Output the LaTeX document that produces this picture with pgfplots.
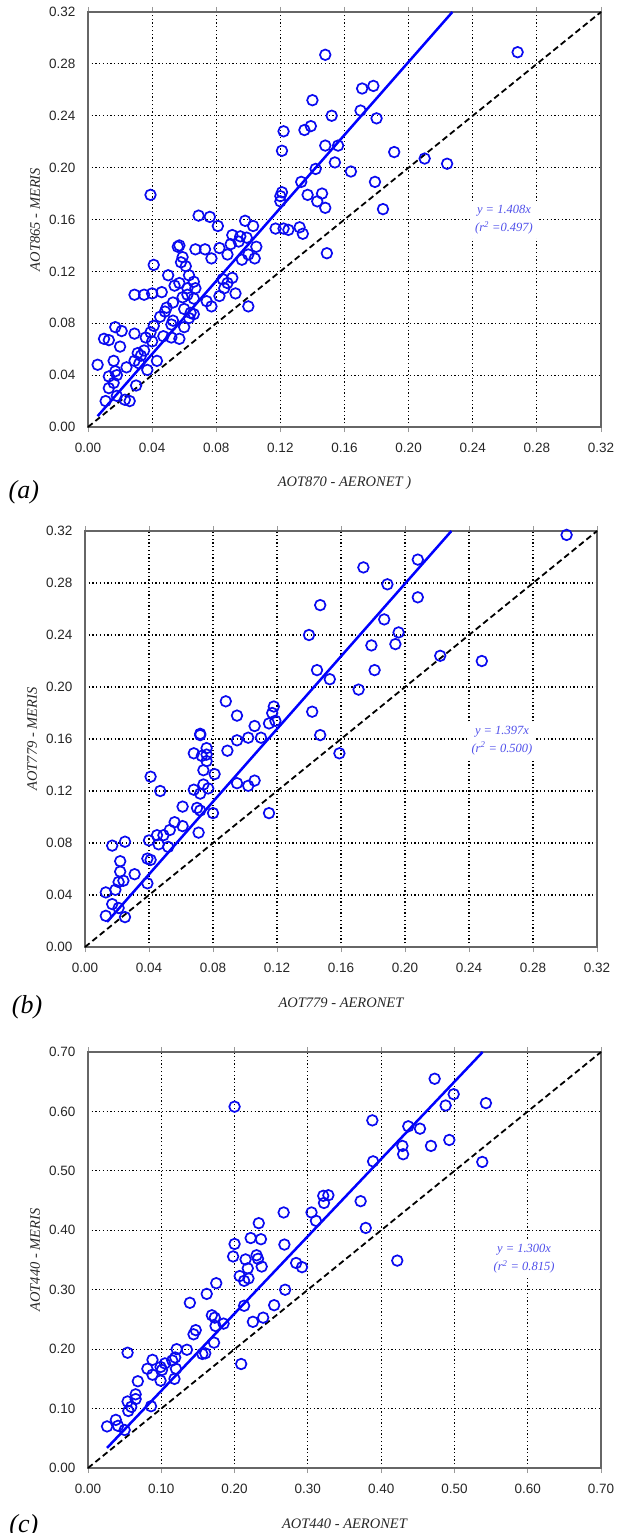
\documentclass[border=0pt]{standalone}
\usepackage{fontspec}
\setmainfont{Liberation Serif}
\newfontfamily\arial{Liberation Sans}
\usepackage{pgfplots}
\pgfplotsset{compat=1.18}
\definecolor{annot}{RGB}{80,80,235}
\definecolor{mk}{RGB}{10,10,240}

\pgfplotsset{
  panel/.style={
    scale only axis, anchor=south west, clip=false,
    xmin=0, ymin=0,
    grid=major,
    major grid style={black, line width=1.2pt, dash pattern=on 1.3pt off 2.4pt},
    axis line style={draw=black!60, line width=1.5pt},
    tick align=outside,
    xtick style={draw=black!40, line width=0.8pt},
    major tick length=5pt,
    ytick style={draw=none},
    ticklabel style={font=\arial\fontsize{13.5}{15}\selectfont, text=black!85},
    xticklabel style={yshift=-8pt},
    yticklabel style={xshift=-4pt},
    /pgf/number format/fixed,
    /pgf/number format/fixed zerofill,
    /pgf/number format/precision=2,
    /pgf/number format/assume math mode=true,
    xlabel style={at={(axis description cs:0.5,-0.135)}, anchor=center,
      font=\itshape\fontsize{14.5}{16}\selectfont, text=black!85},
    ylabel style={at={(axis description cs:-0.103,0.5)}, anchor=center,
      font=\itshape\fontsize{14.5}{16}\selectfont, text=black!85},
  },
  pts/.style={only marks, mark=o, mark size=5.3pt,
    mark options={draw=mk, line width=1.7pt}},
  fitline/.style={blue, line width=2.5pt, no marks},
  oneone/.style={black, line width=1.8pt, dash pattern=on 6pt off 3.5pt, no marks},
}
\tikzset{
  eqbox/.style={fill=white, inner sep=4pt, align=center, text=annot,
    font=\itshape\fontsize{12.5}{18}\selectfont},
  plabel/.style={font=\itshape\fontsize{26}{28}\selectfont, anchor=center},
}

\begin{document}
\begin{tikzpicture}
\path[use as bounding box] (0pt,0pt) rectangle (629pt,-1533pt);

% (a)
\begin{axis}[panel, at={(88pt,-427pt)}, width=513pt, height=415pt,
  xmax=0.32, ymax=0.32,
  xtick={0,0.04,0.08,0.12,0.16,0.20,0.24,0.28,0.32},
  ytick={0,0.04,0.08,0.12,0.16,0.20,0.24,0.28,0.32},
  xlabel={AOT870 - AERONET )}, ylabel={AOT865 - MERIS}]
\addplot[oneone] coordinates {(0,0) (0.32,0.32)};
\addplot[fitline] coordinates {(0.006,0.0084) (0.2273,0.32)};
\addplot[pts] table {
x y
0.148 0.287
0.268 0.289
0.171 0.261
0.178 0.263
0.140 0.252
0.170 0.244
0.152 0.240
0.180 0.238
0.122 0.228
0.139 0.232
0.135 0.229
0.121 0.213
0.148 0.217
0.156 0.217
0.191 0.212
0.210 0.207
0.224 0.203
0.154 0.204
0.142 0.199
0.164 0.197
0.133 0.189
0.179 0.189
0.039 0.179
0.120 0.178
0.121 0.181
0.120 0.174
0.137 0.179
0.146 0.180
0.143 0.174
0.148 0.169
0.184 0.168
0.069 0.163
0.076 0.162
0.081 0.155
0.098 0.159
0.103 0.155
0.117 0.153
0.122 0.153
0.125 0.152
0.132 0.154
0.134 0.149
0.090 0.148
0.095 0.147
0.099 0.146
0.094 0.143
0.089 0.141
0.057 0.140
0.056 0.139
0.067 0.137
0.073 0.137
0.082 0.138
0.105 0.139
0.149 0.134
0.087 0.133
0.100 0.133
0.096 0.129
0.104 0.130
0.077 0.130
0.059 0.131
0.058 0.127
0.061 0.124
0.041 0.125
0.050 0.117
0.063 0.117
0.066 0.112
0.057 0.111
0.054 0.109
0.067 0.107
0.062 0.107
0.084 0.114
0.090 0.115
0.087 0.111
0.085 0.107
0.082 0.101
0.092 0.103
0.029 0.102
0.035 0.102
0.040 0.103
0.046 0.104
0.059 0.100
0.062 0.102
0.066 0.099
0.074 0.097
0.077 0.093
0.100 0.093
0.053 0.096
0.049 0.092
0.048 0.089
0.045 0.085
0.060 0.091
0.064 0.088
0.066 0.087
0.063 0.084
0.053 0.082
0.052 0.079
0.041 0.078
0.060 0.077
0.017 0.077
0.021 0.074
0.029 0.072
0.039 0.073
0.036 0.069
0.047 0.070
0.052 0.069
0.057 0.068
0.040 0.066
0.010 0.068
0.013 0.067
0.020 0.062
0.035 0.059
0.031 0.057
0.033 0.055
0.029 0.051
0.043 0.051
0.016 0.051
0.006 0.048
0.024 0.046
0.032 0.049
0.037 0.044
0.017 0.043
0.013 0.039
0.018 0.040
0.016 0.034
0.013 0.030
0.030 0.032
0.018 0.024
0.011 0.020
0.023 0.021
0.026 0.020
};
\node[eqbox] at (axis cs:0.2595,0.1597) {y = 1.408x\\(r\textsuperscript{2} =0.497)};
\node[plabel] at (axis description cs:-0.125,-0.157) {(a)};
\end{axis}

% (b)
\begin{axis}[panel, at={(85pt,-947pt)}, width=512pt, height=416pt,
  xmax=0.32, ymax=0.32,
  xtick={0,0.04,0.08,0.12,0.16,0.20,0.24,0.28,0.32},
  ytick={0,0.04,0.08,0.12,0.16,0.20,0.24,0.28,0.32},
  xlabel={AOT779 - AERONET}, ylabel={AOT779 - MERIS}]
\addplot[oneone] coordinates {(0,0) (0.32,0.32)};
\addplot[fitline] coordinates {(0.0138,0.0193) (0.229,0.32)};
\addplot[pts] table {
x y
0.301 0.317
0.208 0.298
0.174 0.292
0.189 0.279
0.147 0.263
0.208 0.269
0.187 0.252
0.140 0.240
0.196 0.242
0.179 0.232
0.194 0.233
0.222 0.224
0.248 0.220
0.145 0.213
0.181 0.213
0.153 0.206
0.171 0.198
0.088 0.189
0.118 0.185
0.117 0.180
0.142 0.181
0.095 0.178
0.115 0.172
0.106 0.170
0.119 0.174
0.072 0.164
0.072 0.163
0.095 0.159
0.102 0.161
0.110 0.161
0.147 0.163
0.159 0.149
0.076 0.153
0.089 0.151
0.068 0.149
0.076 0.148
0.073 0.147
0.076 0.143
0.041 0.131
0.074 0.136
0.081 0.133
0.095 0.126
0.102 0.124
0.106 0.128
0.074 0.125
0.047 0.120
0.068 0.121
0.072 0.118
0.077 0.122
0.061 0.108
0.070 0.107
0.072 0.105
0.080 0.103
0.115 0.103
0.056 0.096
0.061 0.093
0.053 0.090
0.071 0.088
0.045 0.086
0.049 0.086
0.046 0.079
0.052 0.077
0.040 0.082
0.025 0.081
0.017 0.078
0.039 0.068
0.041 0.067
0.022 0.066
0.022 0.058
0.031 0.056
0.021 0.050
0.024 0.051
0.039 0.049
0.019 0.044
0.013 0.042
0.017 0.033
0.021 0.030
0.013 0.024
0.025 0.023
};
\node[eqbox] at (axis cs:0.2606,0.1589) {y = 1.397x\\(r\textsuperscript{2} = 0.500)};
\node[plabel] at (axis description cs:-0.113,-0.144) {(b)};
\end{axis}

% (c)
\begin{axis}[panel, at={(88pt,-1468pt)}, width=513pt, height=416pt,
  xmax=0.7, ymax=0.7,
  xtick={0,0.1,0.2,0.3,0.4,0.5,0.6,0.7},
  ytick={0,0.1,0.2,0.3,0.4,0.5,0.6,0.7},
  xlabel={AOT440 - AERONET}, ylabel={AOT440 - MERIS}]
\addplot[oneone] coordinates {(0,0) (0.7,0.7)};
\addplot[fitline] coordinates {(0.026,0.0338) (0.5385,0.70)};
\addplot[pts] table {
x y
0.473 0.655
0.499 0.629
0.488 0.610
0.200 0.608
0.543 0.614
0.388 0.585
0.437 0.575
0.453 0.571
0.493 0.552
0.429 0.542
0.468 0.542
0.430 0.528
0.389 0.516
0.538 0.515
0.321 0.458
0.328 0.459
0.322 0.446
0.372 0.449
0.267 0.430
0.305 0.430
0.311 0.416
0.379 0.404
0.233 0.412
0.222 0.387
0.236 0.385
0.200 0.377
0.268 0.376
0.422 0.349
0.198 0.356
0.215 0.351
0.230 0.358
0.232 0.352
0.284 0.345
0.237 0.339
0.292 0.338
0.218 0.336
0.207 0.323
0.213 0.315
0.219 0.319
0.175 0.311
0.269 0.300
0.162 0.293
0.139 0.278
0.213 0.273
0.254 0.274
0.169 0.257
0.173 0.253
0.239 0.253
0.225 0.246
0.185 0.243
0.174 0.239
0.147 0.232
0.144 0.225
0.172 0.211
0.054 0.194
0.121 0.200
0.135 0.199
0.156 0.192
0.160 0.193
0.088 0.182
0.119 0.186
0.115 0.181
0.209 0.175
0.105 0.176
0.081 0.167
0.120 0.167
0.099 0.170
0.101 0.165
0.088 0.157
0.099 0.147
0.118 0.150
0.068 0.146
0.065 0.124
0.065 0.116
0.054 0.112
0.059 0.103
0.086 0.104
0.055 0.096
0.038 0.081
0.041 0.071
0.026 0.070
0.050 0.064
};
\node[eqbox] at (axis cs:0.595,0.352) {y = 1.300x\\(r\textsuperscript{2} = 0.815)};
\node[plabel] at (axis description cs:-0.125,-0.140) {(c)};
\end{axis}
\end{tikzpicture}
\end{document}
